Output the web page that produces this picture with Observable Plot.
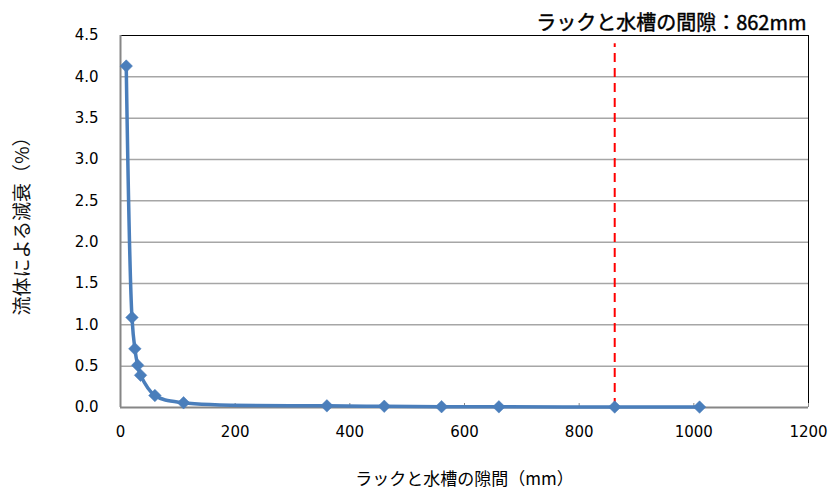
<!DOCTYPE html>
<html>
<head>
<meta charset="utf-8">
<script src="https://cdn.jsdelivr.net/npm/d3@7"></script>
<script src="https://cdn.jsdelivr.net/npm/@observablehq/plot@0.6"></script>
<style>
  html, body { margin: 0; padding: 0; background: #fff; }
  #chart { width: 835px; height: 495px; }
</style>
</head>
<body>
<div id="chart"></div>
<script>
const gap = [10, 20, 25, 30, 35, 60, 110, 360, 460, 560, 660, 862, 1010];
const attenuation = [4.13, 1.09, 0.71, 0.51, 0.39, 0.145, 0.057, 0.02, 0.015, 0.01, 0.008, 0.006, 0.005];
const markerGap = [862];
const xTicks = [0, 200, 400, 600, 800, 1000, 1200];
const yTicks = [0, 0.5, 1.0, 1.5, 2.0, 2.5, 3.0, 3.5, 4.0, 4.5];
const titleText = ["ラックと水槽の間隙：862mm"];
const xLabel = "ラックと水槽の隙間（mm）";
const yLabel = "流体による減衰（%）";

const data = gap.map((g, i) => ({gap: g, att: attenuation[i]}));
const jp = "'Noto Sans CJK JP', 'DejaVu Sans', sans-serif";
const num = "'DejaVu Sans', Verdana, sans-serif";

const chart = Plot.plot({
  width: 835,
  height: 495,
  marginLeft: 120,
  marginRight: 27,
  marginTop: 35,
  marginBottom: 88,
  style: {fontFamily: num, fontSize: "15px", color: "#000", background: "#fff"},
  x: {domain: [0, 1200]},
  y: {domain: [0, 4.5]},
  marks: [
    Plot.ruleY(yTicks.filter(v => v > 0 && v < 4.5), {stroke: "#a6a6a6", strokeWidth: 1.5, strokeOpacity: 1}),
    Plot.ruleY([4.5], {stroke: "#000", strokeWidth: 1}),
    Plot.ruleX([1200], {stroke: "#000", strokeWidth: 1}),
    Plot.ruleX([0], {stroke: "#868686", strokeWidth: 2}),
    Plot.ruleY([0], {stroke: "#868686", strokeWidth: 2}),
    Plot.axisX({ticks: xTicks, tickSize: -4, stroke: "#868686", text: null, label: null}),
    Plot.axisX({ticks: xTicks, tickSize: 0, tickPadding: 19, tickFormat: d => String(d), fontSize: 15, label: null}),
    Plot.axisY({ticks: yTicks, tickSize: 0, tickPadding: 22, tickFormat: d3.format(".1f"), fontSize: 15, label: null}),
    Plot.text([xLabel], {frameAnchor: "bottom", textAnchor: "middle", dy: 77, fontFamily: jp, fontSize: 17, fill: "#000"}),
    Plot.text([yLabel], {frameAnchor: "left", textAnchor: "middle", dx: -98, rotate: -90, fontFamily: jp, fontSize: 19, fill: "#111"}),
    Plot.ruleX(markerGap, {y1: 0, y2: 4.4, stroke: "#ff0000", strokeWidth: 2, strokeDasharray: "9,6"}),
    Plot.line(data, {x: "gap", y: "att", stroke: "#4a7ebb", strokeWidth: 3.5, curve: "catmull-rom"}),
    Plot.dot(data, {x: "gap", y: "att", symbol: "square", rotate: 45, r: 5, fill: "#4a7ebb", stroke: "#4a7ebb", strokeWidth: 0.5}),
    Plot.text(titleText, {frameAnchor: "top-right", textAnchor: "end", lineAnchor: "bottom", dy: -6, dx: -2, fontFamily: jp, fontSize: 20, fontWeight: 400, fill: "#000", stroke: "#000", strokeWidth: 0.45})
  ]
});
document.getElementById("chart").appendChild(chart);
</script>
</body>
</html>
